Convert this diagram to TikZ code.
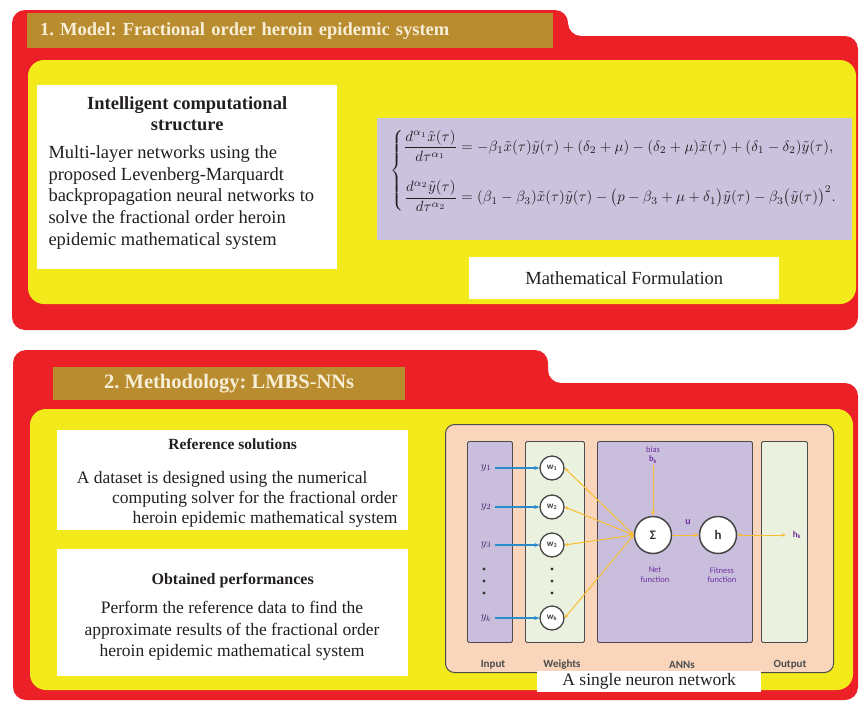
\documentclass[tikz,border=0pt]{standalone}
\usepackage{fontspec}
\usepackage{amsmath}
\usepackage{graphicx}
\setmainfont{Liberation Serif}
\newfontfamily\annfont{Carlito}
\usetikzlibrary{positioning, arrows.meta, calc}
\definecolor{panelred}{RGB}{236,32,39}
\definecolor{panelyellow}{RGB}{242,234,26}
\definecolor{titlebrown}{RGB}{186,140,48}
\definecolor{titlecream}{RGB}{246,238,214}
\definecolor{eqlilac}{RGB}{203,194,222}
\definecolor{netpeach}{RGB}{249,213,188}
\definecolor{collilac}{RGB}{201,191,221}
\definecolor{colgreen}{RGB}{235,241,223}
\definecolor{linkorange}{RGB}{248,190,48}
\definecolor{linkblue}{RGB}{42,140,205}
\definecolor{labelpurple}{RGB}{112,48,160}
\definecolor{inktext}{RGB}{35,31,32}

\tikzset{
  panel/.style={fill=panelred, rounded corners=13pt},
  board/.style={fill=panelyellow, rounded corners=16pt},
  titlebar/.style={fill=titlebrown, anchor=north west, inner sep=0pt, text=titlecream},
  whitebox/.style={fill=white, anchor=north west, inner sep=0pt, text=inktext},
  column/.style={draw=gray!60!black, line width=0.9pt, anchor=north west, inner sep=0pt, rounded corners=1.5pt, minimum height=201pt},
  weightnode/.style={circle, draw=gray!55!black, line width=1.3pt, fill=white, minimum size=24pt, inner sep=0pt, font=\annfont\bfseries\fontsize{9}{9}\selectfont, text=black!75},
  neuron/.style={circle, draw=gray!55!black, line width=1.5pt, fill=white, minimum size=37pt, inner sep=0pt, font=\annfont\bfseries\fontsize{13}{13}\selectfont, text=black!80},
  netlabel/.style={font=\annfont\fontsize{8.5}{9.5}\selectfont, text=labelpurple, align=center, inner sep=1pt},
  collabel/.style={font=\annfont\bfseries\fontsize{11}{11}\selectfont, text=black!70},
  inlabel/.style={font=\fontsize{11}{11}\selectfont, text=labelpurple!60!black},
  inlink/.style={-{Stealth[length=5pt,width=4pt]}, draw=linkblue, line width=1.1pt},
  wlink/.style={{Stealth[length=4pt,width=3.5pt]}-{Stealth[length=4pt,width=3.5pt]}, draw=linkorange, line width=1pt},
  outlink/.style={-{Stealth[length=5pt,width=4pt]}, draw=linkorange, line width=1pt}
}

\begin{document}
\frenchspacing
\begin{tikzpicture}[x=1pt, y=-1pt]
\useasboundingbox (0,0) rectangle (861,704);

% Panneau 1 : modele
\fill[panel] (12,330) -- (12,10) -- (568,10) -- (568,36) -- (858,36) -- (858,330) -- cycle;
\fill[board] (28,60) rectangle (856,304);
\node[titlebar, text width=500pt, inner xsep=13pt, minimum height=35pt, align=left,
      font=\fontsize{18.5}{22}\selectfont\bfseries] (modeltitle) at (27,13)
      {1. Model: Fractional order heroin epidemic system};

\node[whitebox, minimum width=300pt, minimum height=184pt] (intelbox) at (37,85) {};
\node[font=\fontsize{18.5}{21.5}\selectfont\bfseries, align=center, anchor=north, text=inktext]
      (inteltitle) at ([yshift=-8pt]intelbox.north) {Intelligent computational\\structure};
\node[font=\fontsize{18.5}{21.7}\selectfont, align=left, anchor=north west, text=inktext]
      (intelbody) at (45,142) {Multi-layer networks using the\\proposed Levenberg-Marquardt\\backpropagation neural networks to\\solve the fractional order heroin\\epidemic mathematical system};

% Systeme fractionnaire
\node[fill=eqlilac, anchor=north west, minimum width=475pt, minimum height=122pt, inner sep=0pt] (eqbox) at (377,118) {};
\node[text=inktext] (eq) at (614,171) {\resizebox{447pt}{!}{$\left\{\begin{aligned}
  \frac{d^{\alpha_1}\tilde{x}(\tau)}{d\tau^{\alpha_1}} &= -\beta_1\tilde{x}(\tau)\tilde{y}(\tau)+(\delta_2+\mu)-(\delta_2+\mu)\tilde{x}(\tau)+(\delta_1-\delta_2)\tilde{y}(\tau),\\[9pt]
  \frac{d^{\alpha_2}\tilde{y}(\tau)}{d\tau^{\alpha_2}} &= (\beta_1-\beta_3)\tilde{x}(\tau)\tilde{y}(\tau)-\bigl(p-\beta_3+\mu+\delta_1\bigr)\tilde{y}(\tau)-\beta_3\bigl(\tilde{y}(\tau)\bigr)^2.
\end{aligned}\right.$}};
\node[whitebox, minimum width=310pt, minimum height=42pt, font=\fontsize{18.5}{20}\selectfont] (mathform) at (469,257) {Mathematical Formulation};

% Panneau 2 : methodologie
\fill[panel] (13,700) -- (13,350) -- (548,350) -- (548,383) -- (858,383) -- (858,700) -- cycle;
\fill[board] (30,409) rectangle (853,690);
\node[titlebar, minimum width=352pt, minimum height=33pt, font=\fontsize{20.5}{22}\selectfont\bfseries] (methtitle) at (53,367) {2. Methodology: LMBS-NNs};

\node[whitebox, minimum width=351pt, minimum height=100pt] (refbox) at (57,430) {};
\node[font=\fontsize{15.5}{17}\selectfont\bfseries, anchor=north, text=inktext] (reftitle) at ([yshift=-5pt]refbox.north) {Reference solutions};
\node[font=\fontsize{17.5}{20}\selectfont, align=right, anchor=north east, text=inktext] (reftext) at (401,468)
      {A dataset is designed using the numerical\hspace*{30pt}\\computing solver for the fractional order\\heroin epidemic mathematical system};

\node[whitebox, minimum width=351pt, minimum height=127pt] (perfbox) at (57,549) {};
\node[font=\fontsize{16}{17}\selectfont\bfseries, anchor=north, text=inktext] (perftitle) at ([yshift=-21pt]perfbox.north) {Obtained performances};
\node[font=\fontsize{17.5}{21.5}\selectfont, align=center, anchor=north, text=inktext] (perftext) at (232,598)
      {Perform the reference data to find the\\approximate results of the fractional order\\heroin epidemic mathematical system};

% Reseau a un neurone
\node[draw=gray!60!black, fill=netpeach, rounded corners=9pt, line width=1pt, anchor=north west,
      minimum width=388pt, minimum height=248pt, inner sep=0pt] (netbox) at (445,424) {};
\node[column, fill=collilac, minimum width=45pt] (incol) at (467,441) {};
\node[column, fill=colgreen, minimum width=59pt] (wcol) at (525,441) {};
\node[column, fill=collilac, minimum width=155pt] (anncol) at (597,441) {};
\node[column, fill=colgreen, minimum width=46pt] (outcol) at (761,441) {};

\node[neuron] (sum) at (653,535) {Σ};
\node[neuron] (fit) at (718,535) {h};
\node[netlabel] (bias) at (653,455) {bias\\ \textbf{b\textsubscript{k}}};
\node[netlabel, font=\annfont\bfseries\fontsize{10}{10}\selectfont] (ulabel) at (688,522) {u};
\node[netlabel, font=\annfont\bfseries\fontsize{9}{9}\selectfont] (hout) at (797,535) {h\textsubscript{k}};
\node[netlabel] (netfn) at (655,575) {Net\\function};
\node[netlabel] (fitfn) at (722,575) {Fitness\\function};

\foreach \i/\y/\s in {1/468/1, 2/507/2, 3/545/3, 4/618/k} {
  \node[inlabel] (y\i) at (486,\y) {$y_{\s}$};
  \node[weightnode] (w\i) at (552,\y) {w\textsubscript{\s}};
  \draw[inlink] (y\i) -- (w\i);
  \draw[wlink] (w\i.east) -- (sum.west);
}
\foreach \y in {569,581,593} {
  \fill[black!80] (484,\y) circle (1.6pt);
  \fill[black!80] (552,\y) circle (1.6pt);
}
\draw[outlink] (bias) -- (sum);
\draw[outlink] (sum) -- (fit);
\draw[wlink, shorten >=6pt] (fit) -- (hout);

\node[collabel] (inname) at (493,665) {Input};
\node[collabel] (wname) at (562,665) {Weights};
\node[collabel] (annname) at (682,665) {ANNs};
\node[collabel] (outname) at (790,665) {Output};
\node[whitebox, minimum width=224pt, minimum height=21pt, font=\fontsize{17.5}{18}\selectfont] (netcaption) at (537,671) {A single neuron network};
\end{tikzpicture}
\end{document}
